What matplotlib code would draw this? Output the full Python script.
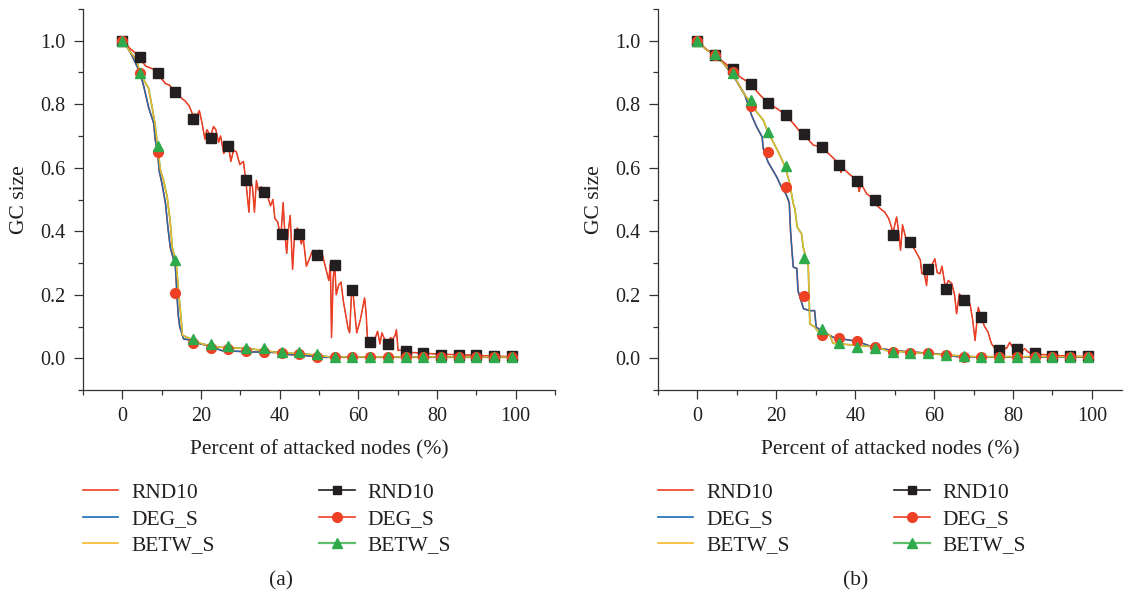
import matplotlib
matplotlib.use("Agg")
import matplotlib.pyplot as plt
from matplotlib.lines import Line2D
from matplotlib.ticker import MultipleLocator

plt.rcParams["font.family"] = ["Liberation Serif", "DejaVu Serif"]

# --------------------------- colours --------------------------- #
RED = "#F03E24"
BLUE = "#1B6BAF"
YELLOW = "#F6B82A"
BLACK = "#231F20"
RED_MK = "#EE4025"
GREEN = "#2EAA4A"
TXT = "#231F20"

# marker positions (percent of attacked nodes), shared by both panels
X_MARK = [0, 4.5, 9, 13.5, 18, 22.5, 27, 31.5, 36, 40.5, 45, 49.5, 54,
          58.5, 63, 67.5, 72, 76.5, 81, 85.5, 90, 94.5, 99]

# --------------------------- panel (a) --------------------------- #
A_RND_X = [0, 1, 2, 3, 4, 5, 6, 7, 8, 9, 10, 11, 12, 13, 14, 15, 16, 17, 18,
           18.5, 19, 19.6, 20.3, 21, 21.5, 22.5, 23.2, 23.8, 24.5, 25, 25.8,
           26.4, 27, 27.6, 28.3, 29, 29.9, 30.8, 31.4, 32.2, 32.6, 33.1, 33.6,
           34.1, 34.6, 35.3, 35.9, 36.6, 37.2, 37.7, 38.3, 38.8, 39.5, 40,
           40.4, 40.9, 41.3, 41.8, 42.2, 42.7, 43.3, 43.8, 44.5, 45, 45.5, 46,
           46.8, 47.5, 48.2, 48.6, 49.5, 50, 50.7, 51.4, 52, 52.5, 52.9, 53.2,
           53.6, 54, 54.4, 55, 55.6, 56.2, 56.9, 57.4, 57.8, 58.3, 58.6, 59,
           59.6, 60.5, 61.6, 62.0, 62.3, 63, 63.7, 64.2, 64.9, 65.5, 66, 66.5,
           67.2, 67.5, 68.2, 68.7, 69.3, 69.7, 70.1, 71, 72, 73, 74, 76.4, 78,
           80.9, 83, 85.3, 88, 89.8, 92, 94.4, 97, 100]
A_RND_Y = [1.0, 0.99, 0.975, 0.965, 0.955, 0.935, 0.92, 0.915, 0.91, 0.90,
           0.88, 0.865, 0.86, 0.845, 0.83, 0.82, 0.81, 0.795, 0.765, 0.77,
           0.765, 0.78, 0.74, 0.69, 0.72, 0.70, 0.73, 0.72, 0.68, 0.70, 0.645,
           0.66, 0.67, 0.62, 0.655, 0.65, 0.61, 0.62, 0.56, 0.46, 0.56, 0.54,
           0.46, 0.56, 0.53, 0.54, 0.525, 0.53, 0.50, 0.48, 0.50, 0.44, 0.43,
           0.40, 0.40, 0.49, 0.40, 0.33, 0.40, 0.45, 0.28, 0.39, 0.41, 0.39,
           0.36, 0.38, 0.29, 0.31, 0.335, 0.34, 0.325, 0.34, 0.335, 0.30, 0.27,
           0.245, 0.30, 0.065, 0.25, 0.295, 0.20, 0.23, 0.24, 0.18, 0.13, 0.095,
           0.08, 0.21, 0.215, 0.16, 0.08, 0.12, 0.19, 0.14, 0.066, 0.05, 0.035,
           0.06, 0.085, 0.045, 0.08, 0.065, 0.05, 0.045, 0.065, 0.06, 0.07,
           0.09, 0.025, 0.025, 0.022, 0.018, 0.018, 0.016, 0.015, 0.012, 0.012,
           0.011, 0.01, 0.01, 0.008, 0.007, 0.006, 0.005]

A_DEG_X = [0, 1, 2, 3, 3.8, 4.5, 5.5, 6.7, 8, 8.4, 9.0, 9.4, 10.1, 11, 11.6,
           12.2, 13.5, 14.2, 14.6, 15.6, 18.6, 19.9, 22, 25.3, 32.5, 40, 42,
           47, 51, 100]
A_DEG_Y = [1.0, 0.985, 0.965, 0.94, 0.918, 0.90, 0.855, 0.79, 0.74, 0.687,
           0.65, 0.59, 0.55, 0.487, 0.413, 0.35, 0.29, 0.14, 0.10, 0.061,
           0.054, 0.045, 0.04, 0.024, 0.02, 0.018, 0.012, 0.008, 0.003, 0.003]

A_BET_X = [0, 1, 2, 3, 3.8, 4.5, 5.5, 6.7, 7.6, 8.3, 8.9, 9.7, 10.5, 11.4,
           11.8, 12.2, 12.7, 13.7, 14.3, 15, 15.3, 16.5, 17.8, 20.3, 24.5,
           32.5, 38.9, 47.7, 52.8, 100]
A_BET_Y = [1.0, 0.985, 0.965, 0.95, 0.934, 0.90, 0.876, 0.85, 0.79, 0.74,
           0.676, 0.592, 0.56, 0.51, 0.47, 0.43, 0.35, 0.30, 0.213, 0.119,
           0.072, 0.066, 0.058, 0.045, 0.035, 0.03, 0.019, 0.012, 0.004, 0.004]

A_SQ = [1.0, 0.95, 0.90, 0.84, 0.755, 0.695, 0.67, 0.56, 0.525, 0.39, 0.39,
        0.325, 0.295, 0.215, 0.05, 0.045, 0.022, 0.016, 0.011, 0.011, 0.011,
        0.007, 0.006]
A_CI = [1.0, 0.90, 0.65, 0.205, 0.048, 0.033, 0.029, 0.024, 0.021, 0.016,
        0.014, 0.005, 0.003, 0.003, 0.003, 0.003, 0.003, 0.003, 0.003, 0.003,
        0.003, 0.003, 0.003]
A_TR = [1.0, 0.90, 0.67, 0.31, 0.06, 0.045, 0.038, 0.032, 0.033, 0.019,
        0.019, 0.012, 0.005, 0.005, 0.005, 0.005, 0.005, 0.005, 0.005, 0.005,
        0.005, 0.005, 0.005]

# --------------------------- panel (b) --------------------------- #
B_RND_X = [0, 2, 4.4, 6.5, 8.9, 10.8, 13.3, 15.8, 17.9, 20.1, 22.4, 24.7,
           26.8, 28, 29.4, 31.5, 33.2, 34.5, 35.9, 36.4, 36.8, 38.5, 40.5, 41,
           41.5, 42.9, 45, 45.6, 46.5, 47.5, 48.5, 49.2, 49.5, 50.5, 51, 51.5,
           52, 52.8, 53.9, 55.2, 56.5, 56.9, 57.5, 58.1, 58.4, 59.3, 60.2,
           60.8, 61.5, 62, 62.9, 63.6, 64.5, 65.2, 65.7, 66.4, 67.4, 68.2,
           69.1, 69.8, 70.4, 71.2, 71.9, 72.8, 73.7, 74.2, 74.6, 75.5, 76.5,
           77.5, 78.3, 79.2, 80.1, 80.9, 82, 83, 84, 85.4, 87, 90, 94.6, 100]
B_RND_Y = [1.0, 0.975, 0.955, 0.934, 0.91, 0.886, 0.866, 0.83, 0.804, 0.787,
           0.766, 0.734, 0.70, 0.69, 0.671, 0.666, 0.645, 0.63, 0.61, 0.585,
           0.60, 0.58, 0.56, 0.525, 0.55, 0.518, 0.50, 0.48, 0.47, 0.46, 0.44,
           0.413, 0.39, 0.445, 0.40, 0.34, 0.42, 0.38, 0.365, 0.34, 0.31,
           0.266, 0.27, 0.229, 0.28, 0.29, 0.313, 0.27, 0.266, 0.29, 0.221,
           0.245, 0.235, 0.20, 0.14, 0.203, 0.184, 0.18, 0.172, 0.12, 0.056,
           0.16, 0.13, 0.10, 0.082, 0.06, 0.045, 0.03, 0.024, 0.035, 0.03,
           0.05, 0.03, 0.027, 0.02, 0.03, 0.018, 0.016, 0.012, 0.01, 0.006,
           0.005]

B_DEG_X = [0, 2, 4.5, 6.5, 9.1, 10.8, 12, 12.9, 13.7, 15, 16.4, 16.7, 17.9,
           20.1, 21.3, 22.4, 23, 23.3, 23.6, 23.9, 24.3, 25.2, 25.5, 26.9,
           28.5, 29.7, 30.1, 32.8, 34.6, 39.1, 41.2, 44.5, 49.7, 60.7, 66.6,
           100]
B_DEG_Y = [1.0, 0.975, 0.955, 0.93, 0.89, 0.855, 0.83, 0.797, 0.766, 0.729,
           0.697, 0.66, 0.618, 0.571, 0.539, 0.518, 0.50, 0.487, 0.403, 0.35,
           0.287, 0.283, 0.213, 0.156, 0.15, 0.15, 0.098, 0.077, 0.065, 0.056,
           0.05, 0.035, 0.024, 0.014, 0.004, 0.004]

B_BET_X = [0, 2, 4.4, 6.5, 8.9, 10.3, 12, 13.3, 15, 16.7, 17.9, 19.2, 20.5,
           21.7, 22.4, 23.4, 24.3, 24.7, 25.3, 26.4, 26.8, 27.7, 28.1, 28.5,
           29.8, 30.4, 33.6, 34.4, 45.8, 48, 64.9, 70, 100]
B_BET_Y = [1.0, 0.975, 0.955, 0.929, 0.897, 0.866, 0.829, 0.81, 0.776, 0.75,
           0.71, 0.681, 0.65, 0.618, 0.597, 0.55, 0.487, 0.47, 0.413, 0.392,
           0.35, 0.308, 0.29, 0.108, 0.098, 0.087, 0.072, 0.047, 0.035, 0.024,
           0.009, 0.005, 0.005]

B_SQ = [1.0, 0.955, 0.91, 0.863, 0.805, 0.766, 0.705, 0.666, 0.609, 0.559,
        0.50, 0.389, 0.365, 0.28, 0.219, 0.184, 0.13, 0.026, 0.029, 0.017,
        0.007, 0.006, 0.006]
B_CI = [1.0, 0.955, 0.902, 0.794, 0.65, 0.54, 0.195, 0.074, 0.063, 0.053,
        0.037, 0.021, 0.016, 0.016, 0.011, 0.003, 0.003, 0.003, 0.003, 0.003,
        0.003, 0.003, 0.003]
B_TR = [1.0, 0.958, 0.899, 0.813, 0.713, 0.606, 0.317, 0.093, 0.047, 0.037,
        0.033, 0.019, 0.017, 0.017, 0.011, 0.008, 0.005, 0.005, 0.005, 0.005,
        0.005, 0.005, 0.005]

LABELS = ["RND10", "DEG_S", "BETW_S"]
FS = 15.5          # labels, legend, captions
FS_TICK = 14.5     # tick labels
W, H = 1130, 599


def draw_panel(ax, rnd, deg, bet, sq, ci, tr, xmax):
    # marker-series lines sit under the plain lines
    ax.plot(rnd[0], rnd[1], color=BLACK, lw=0.5, zorder=1)
    ax.plot(deg[0], deg[1], color=RED_MK, lw=1.2, zorder=1)
    ax.plot(bet[0], bet[1], color=GREEN, lw=1.2, zorder=1)
    ax.plot(rnd[0], rnd[1], color=RED, lw=1.1, zorder=2)
    ax.plot(deg[0], deg[1], color=BLUE, lw=1.0, zorder=2)
    ax.plot(bet[0], bet[1], color=YELLOW, lw=1.0, zorder=2)
    ax.plot(X_MARK, sq, ls="none", marker="s", ms=6.5, color=BLACK, zorder=3)
    ax.plot(X_MARK, ci, ls="none", marker="o", ms=7, color=RED_MK, zorder=4)
    ax.plot(X_MARK, tr, ls="none", marker="^", ms=7.5, color=GREEN, zorder=5)

    ax.set_xlim(-10, xmax)
    ax.set_ylim(-0.1, 1.1)
    ax.xaxis.set_minor_locator(MultipleLocator(10))
    ax.yaxis.set_minor_locator(MultipleLocator(0.1))
    ax.set_xticks([0, 20, 40, 60, 80, 100])
    ax.set_yticks([0.0, 0.2, 0.4, 0.6, 0.8, 1.0])
    ax.set_yticklabels(["0.0", "0.2", "0.4", "0.6", "0.8", "1.0"])
    for s in ("top", "right"):
        ax.spines[s].set_visible(False)
    for s in ("left", "bottom"):
        ax.spines[s].set_color("#333333")
        ax.spines[s].set_linewidth(0.9)
    ax.tick_params(which="major", direction="out", length=6.5, width=0.9,
                   color="#333333", labelsize=FS_TICK, labelcolor=TXT, pad=6)
    ax.tick_params(which="minor", direction="out", length=3.5, width=0.9,
                   color="#333333")
    ax.set_xlabel("Percent of attacked nodes (%)", fontsize=FS, color=TXT,
                  labelpad=10)
    ax.set_ylabel("GC size", fontsize=FS, color=TXT, labelpad=8)


def add_legends(fig, x0):
    plain = [Line2D([], [], color=c, lw=1.2) for c in (RED, BLUE, YELLOW)]
    marked = [Line2D([], [], color=BLACK, lw=1.2, marker="s", ms=6),
              Line2D([], [], color=RED_MK, lw=1.2, marker="o", ms=7),
              Line2D([], [], color="#5DBE6E", lw=1.6, marker="^", ms=7.5,
                     mfc=GREEN, mec=GREEN)]
    yc = 1 - 519 / H
    for handles, xpx in ((plain, x0), (marked, x0 + 236.6)):
        fig.legend(handles, LABELS, loc="center left",
                   bbox_to_anchor=(xpx / W, yc), frameon=False,
                   fontsize=FS, handlelength=1.65, handletextpad=0.6,
                   labelspacing=0.3, borderpad=0, borderaxespad=0,
                   labelcolor=TXT)


fig = plt.figure(figsize=(W / 100, H / 100), dpi=100)
ax_a = fig.add_axes([82.9 / W, 1 - 390 / H, (555 - 82.9) / W, 381 / H])
ax_b = fig.add_axes([658 / W, 1 - 390 / H, (1121.8 - 658) / W, 381 / H])

draw_panel(ax_a, (A_RND_X, A_RND_Y), (A_DEG_X, A_DEG_Y), (A_BET_X, A_BET_Y),
           A_SQ, A_CI, A_TR, 110)
draw_panel(ax_b, (B_RND_X, B_RND_Y), (B_DEG_X, B_DEG_Y), (B_BET_X, B_BET_Y),
           B_SQ, B_CI, B_TR, 107.6)

add_legends(fig, 82.7)
add_legends(fig, 657.7)

fig.text(281 / W, 1 - 581 / H, "(a)", ha="center", va="center",
         fontsize=FS, color=TXT)
fig.text(856 / W, 1 - 581 / H, "(b)", ha="center", va="center",
         fontsize=FS, color=TXT)

fig.savefig("out.png", dpi=100)
